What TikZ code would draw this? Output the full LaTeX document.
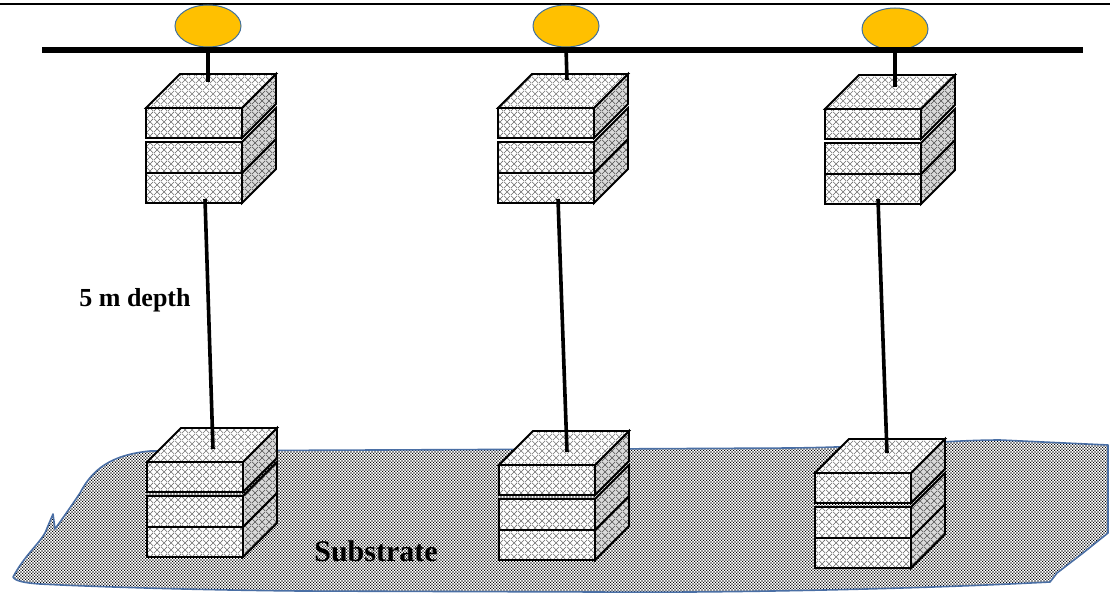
\documentclass[tikz,border=0pt]{standalone}
\usepackage{fontspec}
\setmainfont{Liberation Serif}
\usetikzlibrary{patterns.meta,shapes.geometric}

\definecolor{buoyfill}{HTML}{FFC000}
\definecolor{buoyline}{HTML}{41719C}
\definecolor{sandline}{HTML}{4A6FA5}

% diagonal wire mesh of the cages
\tikzdeclarepattern{
  name=mesh, type=uncolored,
  bounding box={(0pt,0pt) and (7pt,7pt)},
  tile size={(7pt,7pt)},
  code={\draw[line width=.65pt] (0pt,0pt) -- (7pt,7pt) (0pt,7pt) -- (7pt,0pt);}
}
% sandy grain of the sea floor
\tikzdeclarepattern{
  name=grit, type=uncolored,
  bounding box={(0pt,0pt) and (3.4pt,3.4pt)},
  tile size={(3.4pt,3.4pt)},
  code={\fill (0pt,0pt) rectangle (1.45pt,1.45pt);
        \fill (1.7pt,1.7pt) rectangle (3.15pt,3.15pt);}
}

\tikzset{
  facefront/.style={preaction={fill=white}, pattern=mesh, pattern color=black!60,
                    draw=black, line width=1.8pt, line join=miter},
  faceside/.style={preaction={fill=black!15}, pattern=mesh, pattern color=black!70,
                   draw=black, line width=1.8pt, line join=miter},
  facetop/.style={preaction={fill=white}, pattern=mesh, pattern color=black!55,
                  draw=black, line width=1.8pt, line join=miter},
  cubestack/.pic={
    \foreach \a/\b in {65/95,34/65,0/30}{
      \path[faceside] (96,\a) -- (130,\a-34) -- (130,\b-34) -- (96,\b) -- cycle;
      \path[facefront] (0,\a) rectangle (96,\b);
    }
    \path[facetop] (0,0) -- (34,-34) -- (130,-34) -- (96,0) -- cycle;
  },
  buoy/.style={ellipse, draw=buoyline, line width=1pt, fill=buoyfill,
               minimum width=66pt, minimum height=42pt, inner sep=0pt},
  longline/.style={line width=6pt, black},
  rope/.style={line width=3.6pt, black},
  frame/.style={line width=2.5pt, black},
  seabed/.style={preaction={fill=white}, pattern=grit, pattern color=black,
                 draw=sandline, line width=1.6pt, line join=round},
  caption/.style={font=\fontsize{26}{30}\selectfont\bfseries, inner sep=0pt}
}

\begin{document}
\begin{tikzpicture}[x=1pt,y=-1pt]
\useasboundingbox (0,0) rectangle (1110,594);
\fill[white] (0,0) rectangle (1110,594);

% sea floor
\path[seabed] (13,577) .. controls (25,555) and (38,545) .. (45,533)
  -- (53,514) -- (55,529)
  .. controls (65,515) and (72,505) .. (80,493)
  .. controls (92,470) and (110,455) .. (150,451)
  -- (600,449) -- (790,448)
  .. controls (880,447) and (950,440) .. (1000,440)
  -- (1108,445) -- (1108,533) -- (1083,553) -- (1057,573) -- (1050,582)
  .. controls (900,590) and (700,593) .. (600,592)
  -- (300,591)
  .. controls (200,590) and (100,587) .. (40,584)
  .. controls (25,583) and (15,581) .. (13,577) -- cycle;

% surface frame line
\coordinate (frameW) at (0,4);
\coordinate (frameE) at (1110,4);
\draw[frame] (frameW) -- (frameE);

% floats and longline
\node[buoy] (buoy1) at (208,26) {};
\node[buoy] (buoy2) at (566,26) {};
\node[buoy] (buoy3) at (895,29) {};
\coordinate (lineW) at (42,50);
\coordinate (lineE) at (1083,50);
\draw[longline] (lineW) -- (lineE);

% suspended and bottom cages
\pic (top1) at (146,108) {cubestack};
\pic (top2) at (498,108) {cubestack};
\pic (top3) at (825,109) {cubestack};
\pic (bot1) at (147,462) {cubestack};
\pic (bot2) at (499,465) {cubestack};
\pic (bot3) at (815,473) {cubestack};

% attachment points
\coordinate (t1in) at (208,82);
\coordinate (t2in) at (567,80);
\coordinate (t3in) at (895,87);
\coordinate (t1out) at (205,199);
\coordinate (t2out) at (558,199);
\coordinate (t3out) at (878,199);
\coordinate (b1in) at (213,449);
\coordinate (b2in) at (567,452);
\coordinate (b3in) at (887,453);

% ropes
\draw[rope] (buoy1.south) -- (t1in);
\draw[rope] (buoy2.south) -- (t2in);
\draw[rope] (buoy3.south) -- (t3in);
\draw[rope] (t1out) -- (b1in);
\draw[rope] (t2out) -- (b2in);
\draw[rope] (t3out) -- (b3in);

% labels
\node[caption] (depth) at (135,300) {5 m depth};
\node[caption, font=\fontsize{30}{34}\selectfont\bfseries] (sub) at (376,551) {Substrate};
\end{tikzpicture}
\end{document}
